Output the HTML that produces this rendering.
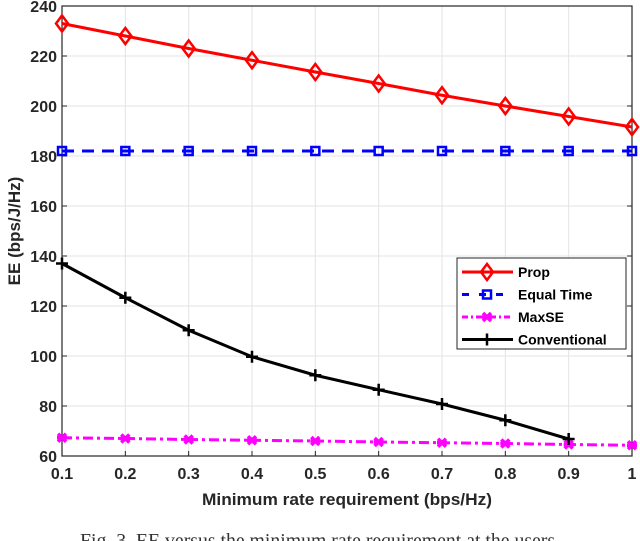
<!DOCTYPE html>
<html><head><meta charset="utf-8"><style>
body{margin:0;background:#fff;}
svg{display:block;font-family:"Liberation Sans",Arial,sans-serif;}
</style></head><body>
<svg id="chart" width="640" height="541" viewBox="0 0 640 541" xmlns="http://www.w3.org/2000/svg">
<g id="grid"></g>
<g id="axes"></g>
<g id="series"></g>
<text x="347" y="505" text-anchor="middle" font-size="17" font-weight="bold" fill="#262626" textLength="290" lengthAdjust="spacingAndGlyphs">Minimum rate requirement (bps/Hz)</text>
<text transform="translate(20,231) rotate(-90)" text-anchor="middle" font-size="17" font-weight="bold" fill="#262626">EE (bps/J/Hz)</text>
<text x="320" y="547" text-anchor="middle" font-family="Liberation Serif,serif" font-size="20" fill="#333" textLength="480" lengthAdjust="spacingAndGlyphs">Fig. 3. EE versus the minimum rate requirement at the users.</text>
<g id="legend"></g>
</svg>
<script>
const xs=[0.1,0.2,0.3,0.4,0.5,0.6,0.7,0.8,0.9,1.0];
const prop=[233,228,223,218.3,213.6,209,204.3,200,195.8,191.6];
const equalTime=[182,182,182,182,182,182,182,182,182,182];
const maxSE=[67.3,67,66.6,66.3,66,65.6,65.3,65,64.6,64.3];
const conventional=[137,123.3,110.3,99.7,92.3,86.5,80.8,74.3,66.8];
const xTicks=[0.1,0.2,0.3,0.4,0.5,0.6,0.7,0.8,0.9,1];
const xTickLabels=["0.1","0.2","0.3","0.4","0.5","0.6","0.7","0.8","0.9","1"];
const yTicks=[60,80,100,120,140,160,180,200,220,240];
const legendLabels=["Prop","Equal Time","MaxSE","Conventional"];

const L=62,R=632,T=6,B=456;
const X=v=>L+(v-0.1)/0.9*(R-L);
const Y=v=>B-(v-60)/180*(B-T);
const NS="http://www.w3.org/2000/svg";
function mk(tag,attrs,parent){const e=document.createElementNS(NS,tag);for(const k in attrs)e.setAttribute(k,attrs[k]);parent.appendChild(e);return e;}
const grid=document.getElementById('grid'),axes=document.getElementById('axes'),series=document.getElementById('series'),legend=document.getElementById('legend');
mk('rect',{x:L,y:T,width:R-L,height:B-T,fill:'#fff'},grid);
xTicks.forEach((t,i)=>{
 const l=mk('line',{x1:X(t),x2:X(t),y1:T,y2:B,stroke:'#e3e3e3','stroke-width':1},grid);
 
 mk('line',{x1:X(t),x2:X(t),y1:B,y2:B-5,stroke:'#262626'},axes);
 const tx=mk('text',{x:X(t),y:B+23,'text-anchor':'middle','font-size':16,'font-weight':'bold',fill:'#262626'},axes);
 tx.textContent=xTickLabels[i];
 
});
yTicks.forEach(t=>{
 const l=mk('line',{x1:L,x2:R,y1:Y(t),y2:Y(t),stroke:'#e3e3e3','stroke-width':1},grid);
 
 mk('line',{x1:L,x2:L+5,y1:Y(t),y2:Y(t),stroke:'#262626'},axes);
 mk('line',{x1:R,x2:R-5,y1:Y(t),y2:Y(t),stroke:'#262626'},axes);
 const tx=mk('text',{x:L-5,y:Y(t)+6,'text-anchor':'end','font-size':16,'font-weight':'bold',fill:'#262626'},axes);
 tx.textContent=t;
 
});
mk('rect',{x:L,y:T,width:R-L,height:B-T,fill:'none',stroke:'#262626','stroke-width':1.2},axes);

function marker(type,cx,cy,color,g){
 if(type==='diamond'){mk('polygon',{points:`${cx},${cy-8} ${cx+6},${cy} ${cx},${cy+8} ${cx-6},${cy}`,fill:'none',stroke:color,'stroke-width':2.5},g);}
 else if(type==='square'){mk('rect',{x:cx-4,y:cy-4,width:8,height:8,fill:'none',stroke:color,'stroke-width':2.5},g);}
 else if(type==='x'){mk('path',{d:`M${cx-4},${cy-4}L${cx+4},${cy+4}M${cx-4},${cy+4}L${cx+4},${cy-4}M${cx-5},${cy}L${cx+5},${cy}`,stroke:color,'stroke-width':3.5},g);}
 else {mk('path',{d:`M${cx-6},${cy}L${cx+6},${cy}M${cx},${cy-6}L${cx},${cy+6}`,stroke:color,'stroke-width':2.5},g);}
}
const defs=[
 {data:prop,color:'#ff0000',dash:'',m:'diamond',name:'series-prop'},
 {data:equalTime,color:'#0000ff',dash:'12,8',m:'square',name:'series-equal-time'},
 {data:maxSE,color:'#ff00ff',dash:'10,4,3,4',m:'x',name:'series-maxse'},
 {data:conventional,color:'#000000',dash:'',m:'plus',name:'series-conventional'}
];
defs.forEach(s=>{
 const g=mk('g',{},series);
 
 const pts=s.data.map((v,i)=>X(xs[i])+','+Y(v)).join(' ');
 const attrs={points:pts,fill:'none',stroke:s.color,'stroke-width':3};
 if(s.dash)attrs['stroke-dasharray']=s.dash;
 mk('polyline',attrs,g);
 s.data.forEach((v,i)=>marker(s.m,X(xs[i]),Y(v),s.color,g));
});
mk('rect',{x:457,y:258,width:169,height:91,fill:'#fff',stroke:'#262626','stroke-width':1},legend);
defs.forEach((s,i)=>{
 const y=272+i*22.5;
 const g=mk('g',{},legend);
 
 const a={x1:462,x2:513,y1:y,y2:y,stroke:s.color,'stroke-width':3};
 if(s.dash)a['stroke-dasharray']=s.dash==='12,8'?'7,10':'6,3,2,3';
 mk('line',a,g);
 marker(s.m,487,y,s.color,g);
 const t=mk('text',{x:518,y:y+5,'font-size':14,'font-weight':'bold',fill:'#000'},g);
 t.textContent=legendLabels[i];
});
</script>
</body></html>
